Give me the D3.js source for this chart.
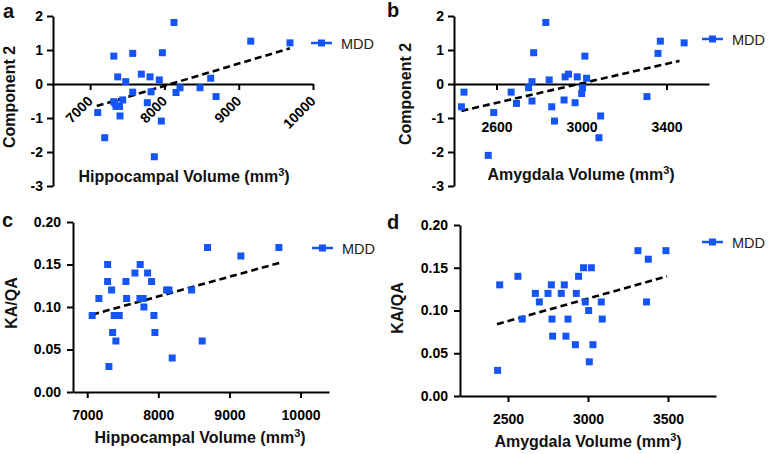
<!DOCTYPE html>
<html>
<head>
<meta charset="utf-8">
<script src="https://cdn.jsdelivr.net/npm/d3@7"></script>
<style>
  html, body { margin: 0; padding: 0; background: #fff; }
  svg { display: block; }
  text { font-family: "Liberation Sans", Arial, Helvetica, sans-serif; }
</style>
</head>
<body>
<svg id="chart" width="769" height="454"></svg>
<script>
// ---------- data ----------
const legendName = "MDD";

// Panel a: Hippocampal volume vs Component 2
const hippoA = [7102, 7196, 7318, 7371, 7318, 7349, 7396, 7439, 7402, 7335, 7479, 7573, 7573, 7689, 7806, 7770, 7820, 7931, 7972, 7958, 7864, 8129, 8156, 8210, 8479, 8623, 8695, 9162, 9690];
const comp2A = [-0.84, -1.58, 0.82, 0.21, -0.52, -0.66, -0.66, -0.47, -0.94, -0.57, 0.07, 0.90, -0.24, 0.29, 0.21, -0.55, -0.23, 0.12, 0.92, -1.09, -2.14, 1.81, -0.25, -0.11, -0.11, 0.17, -0.37, 1.26, 1.21];
const fitAX = [7089, 9690];
const fitAY = [-0.65, 1.05];

// Panel b: Amygdala volume vs Component 2
const amygB = [2435, 2447, 2587, 2561, 2669, 2694, 2751, 2767, 2775, 2767, 2832, 2848, 2860, 2873, 2918, 2923, 2939, 2970, 2980, 3016, 3024, 3005, 3001, 3090, 3082, 3308, 3360, 3371, 3483];
const comp2B = [-0.67, -0.24, -0.84, -2.10, -0.24, -0.57, -0.11, -0.50, 0.92, 0.07, 1.81, 0.12, -0.67, -1.09, -0.47, 0.21, 0.29, -0.55, 0.21, 0.82, 0.17, -0.11, -0.28, -0.94, -1.58, -0.37, 0.90, 1.26, 1.21];
const fitBX = [2435, 3461];
const fitBY = [-0.79, 0.68];

// Panel c: Hippocampal volume vs KA/QA
const hippoC = [7070, 7164, 7287, 7287, 7343, 7305, 7357, 7380, 7450, 7403, 7544, 7554, 7671, 7745, 7741, 7787, 7849, 7905, 7797, 7938, 7952, 8195, 8116, 8149, 8468, 8617, 8692, 9161, 9695];
const kaqaC = [0.09, 0.11, 0.15, 0.13, 0.12, 0.03, 0.07, 0.09, 0.09, 0.06, 0.13, 0.11, 0.14, 0.15, 0.11, 0.11, 0.14, 0.13, 0.10, 0.09, 0.07, 0.04, 0.12, 0.12, 0.12, 0.06, 0.17, 0.16, 0.17];
const fitCX = [7070, 9709];
const fitCY = [0.091, 0.152];

// Panel d: Amygdala volume vs KA/QA
const amygD = [2448, 2435, 2562, 2589, 2671, 2696, 2750, 2771, 2775, 2779, 2833, 2852, 2862, 2875, 2921, 2927, 2941, 2972, 3021, 2983, 3004, 3083, 3089, 3031, 3008, 3312, 3377, 3487, 3366];
const kaqaD = [0.13, 0.03, 0.14, 0.09, 0.12, 0.11, 0.12, 0.13, 0.09, 0.07, 0.12, 0.13, 0.07, 0.09, 0.06, 0.12, 0.14, 0.15, 0.15, 0.11, 0.10, 0.11, 0.09, 0.06, 0.04, 0.17, 0.16, 0.17, 0.11];
const fitDX = [2431, 3494];
const fitDY = [0.084, 0.140];

// tick values
const ticksComp2 = [-3, -2, -1, 0, 1, 2];
const ticksKaqa = [0, 0.05, 0.10, 0.15, 0.20];
const ticksHippoA = [7000, 8000, 9000, 10000];
const ticksAmygB = [2600, 3000, 3400];
const ticksHippoC = [7000, 8000, 9000, 10000];
const ticksAmygD = [2500, 3000, 3500];

// ---------- drawing ----------
const svg = d3.select("#chart");
const BLUE = "#1655f5";
const FONT = '"Liberation Sans", Arial, Helvetica, sans-serif';

function styleAxis(g) {
  g.selectAll("path.domain").attr("stroke", "#000").attr("stroke-width", 2);
  g.selectAll(".tick line").attr("stroke", "#000").attr("stroke-width", 2);
  g.selectAll(".tick text").attr("fill", "#000")
    .attr("font-family", FONT).attr("font-weight", "bold").attr("font-size", 14);
}

function drawPanel(p) {
  const x = d3.scaleLinear().domain(p.xDomain).range(p.xRange);
  const y = d3.scaleLinear().domain(p.yDomain).range(p.yRange);
  const g = svg.append("g");

  // y axis
  const ya = g.append("g")
    .attr("transform", `translate(${p.xRange[0]},0)`)
    .call(d3.axisLeft(y).tickValues(p.yTicks).tickSize(6).tickSizeOuter(0).tickPadding(p.yPad).tickFormat(p.yFmt));
  styleAxis(ya);

  // x axis
  const xAxisY = p.xAxisAtZero ? y(0) : p.yRange[0];
  const xa = g.append("g")
    .attr("transform", `translate(0,${xAxisY})`)
    .call(d3.axisBottom(x).tickValues(p.xTicks).tickSize(6).tickSizeOuter(0).tickFormat(d3.format("d")));
  styleAxis(xa);
  if (p.xLabelMode === "rotated") {
    xa.selectAll(".tick text")
      .attr("text-anchor", "end")
      .attr("dy", null)
      .attr("y", null)
      .attr("transform", "translate(3,18) rotate(-45)");
  } else if (p.xLabelMode === "below") {
    xa.selectAll(".tick text").attr("dy", null).attr("y", p.xLabelDrop);
  } else {
    xa.selectAll(".tick text").attr("dy", null).attr("y", 28);
  }

  // fit line (dashed)
  g.append("line")
    .attr("x1", x(p.fitX[0])).attr("y1", y(p.fitY[0]))
    .attr("x2", x(p.fitX[1])).attr("y2", y(p.fitY[1]))
    .attr("stroke", "#000").attr("stroke-width", 2.6)
    .attr("stroke-dasharray", "7,4");

  // points
  const pts = p.xs.map((v, i) => [v, p.ys[i]]);
  const s = 7;
  g.append("g").selectAll("rect").data(pts).join("rect")
    .attr("x", d => x(d[0]) - s / 2)
    .attr("y", d => y(d[1]) - s / 2)
    .attr("width", s).attr("height", s)
    .attr("fill", BLUE);

  // legend
  const lg = g.append("g").attr("transform", `translate(${p.legend[0]},${p.legend[1]})`);
  lg.append("line").attr("x1", 0).attr("x2", 21).attr("y1", 0).attr("y2", 0)
    .attr("stroke", BLUE).attr("stroke-width", 2.5);
  lg.append("rect").attr("x", 10.5 - s / 2).attr("y", -s / 2).attr("width", s).attr("height", s).attr("fill", BLUE);
  lg.append("text").attr("x", 30).attr("y", 5.5).text(legendName)
    .attr("font-family", FONT).attr("font-size", 14.5).attr("fill", "#222");

  // axis titles
  const xt = g.append("text")
    .attr("x", p.xTitle[0]).attr("y", p.xTitle[1])
    .attr("text-anchor", "middle")
    .attr("font-family", FONT).attr("font-weight", "bold").attr("font-size", 16).attr("fill", "#111");
  xt.append("tspan").text(p.xTitleText + " (mm");
  xt.append("tspan").attr("font-size", 11).attr("dy", -6).text("3");
  xt.append("tspan").attr("dy", 6).text(")");

  g.append("text")
    .attr("transform", `translate(${p.yTitle[0]},${p.yTitle[1]}) rotate(-90)`)
    .attr("text-anchor", "middle")
    .attr("font-family", FONT).attr("font-weight", "bold").attr("font-size", 16).attr("fill", "#111")
    .text(p.yTitleText);

  // panel letter
  g.append("text")
    .attr("x", p.letterPos[0]).attr("y", p.letterPos[1])
    .attr("font-family", FONT).attr("font-weight", "bold").attr("font-size", 20).attr("fill", "#111")
    .text(p.letter);
}

const intFmt = d => String(d);
const decFmt = d3.format(".2f");

drawPanel({
  letter: "a", letterPos: [3, 18],
  xs: hippoA, ys: comp2A, fitX: fitAX, fitY: fitAY,
  xDomain: [6500, 10000], xRange: [53, 313],
  yDomain: [-3, 2], yRange: [186, 16],
  yTicks: ticksComp2, yFmt: intFmt, yPad: 4,
  xTicks: ticksHippoA, xAxisAtZero: true, xLabelMode: "rotated",
  legend: [311, 43],
  xTitle: [184, 182], xTitleText: "Hippocampal Volume",
  yTitle: [15, 97], yTitleText: "Component 2"
});

drawPanel({
  letter: "b", letterPos: [387, 17],
  xs: amygB, ys: comp2B, fitX: fitBX, fitY: fitBY,
  xDomain: [2400, 3600], xRange: [454, 709],
  yDomain: [-3, 2], yRange: [186, 16],
  yTicks: ticksComp2, yFmt: intFmt, yPad: 4,
  xTicks: ticksAmygB, xAxisAtZero: true, xLabelMode: "below", xLabelDrop: 48,
  legend: [702, 39],
  xTitle: [581, 180], xTitleText: "Amygdala Volume",
  yTitle: [411, 94], yTitleText: "Component 2"
});

drawPanel({
  letter: "c", letterPos: [2, 227],
  xs: hippoC, ys: kaqaC, fitX: fitCX, fitY: fitCY,
  xDomain: [6800, 10400], xRange: [73, 329],
  yDomain: [0, 0.2], yRange: [392, 222],
  yTicks: ticksKaqa, yFmt: decFmt, yPad: 6,
  xTicks: ticksHippoC, xAxisAtZero: false, xLabelMode: "plain",
  legend: [312, 248],
  xTitle: [200, 443], xTitleText: "Hippocampal Volume",
  yTitle: [17, 303], yTitleText: "KA/QA"
});

drawPanel({
  letter: "d", letterPos: [387, 229],
  xs: amygD, ys: kaqaD, fitX: fitDX, fitY: fitDY,
  xDomain: [2200, 3800], xRange: [460, 716],
  yDomain: [0, 0.2], yRange: [396, 225],
  yTicks: ticksKaqa, yFmt: decFmt, yPad: 6,
  xTicks: ticksAmygD, xAxisAtZero: false, xLabelMode: "plain",
  legend: [702, 242],
  xTitle: [588, 447], xTitleText: "Amygdala Volume",
  yTitle: [403, 308], yTitleText: "KA/QA"
});
</script>
</body>
</html>
